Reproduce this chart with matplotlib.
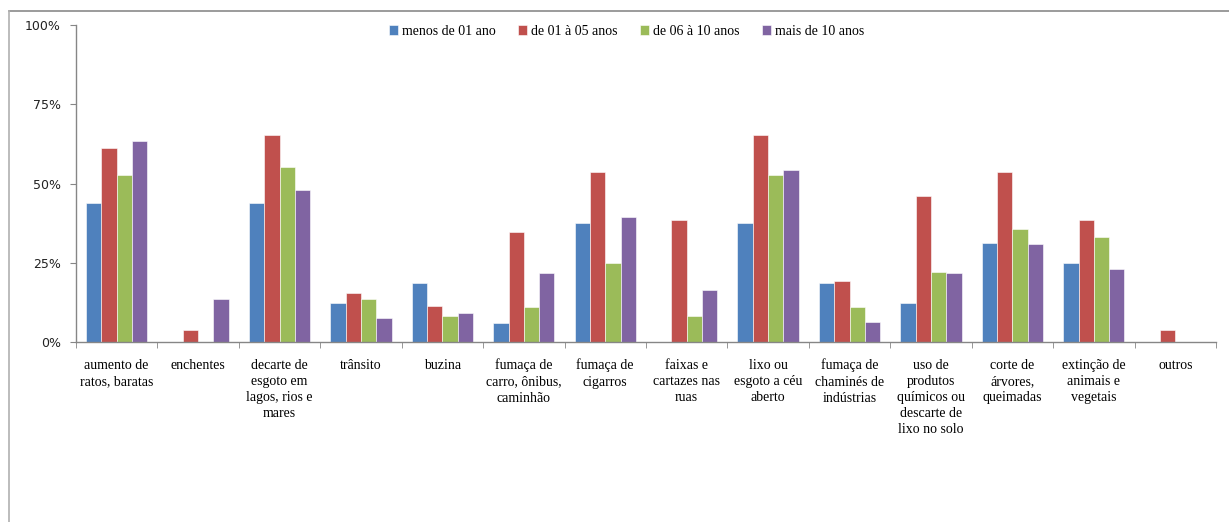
import numpy as np
import matplotlib
matplotlib.use("Agg")
import matplotlib.pyplot as plt
from matplotlib.lines import Line2D
from matplotlib.ticker import PercentFormatter

categorias = [
    "aumento de\nratos, baratas",
    "enchentes",
    "decarte de\nesgoto em\nlagos, rios e\nmares",
    "trânsito",
    "buzina",
    "fumaça de\ncarro, ônibus,\ncaminhão",
    "fumaça de\ncigarros",
    "faixas e\ncartazes nas\nruas",
    "lixo ou\nesgoto a céu\naberto",
    "fumaça de\nchaminés de\nindústrias",
    "uso de\nprodutos\nquímicos ou\ndescarte de\nlixo no solo",
    "corte de\nárvores,\nqueimadas",
    "extinção de\nanimais e\nvegetais",
    "outros",
]

series = ["menos de 01 ano", "de 01 à 05 anos", "de 06 à 10 anos", "mais de 10 anos"]

menos_01 = [43.7, 0, 43.7, 12.3, 18.6, 6.1, 37.5, 0, 37.5, 18.6, 12.3, 31.2, 24.9, 0]
de_01_05 = [61.2, 3.8, 65.2, 15.4, 11.4, 34.6, 53.6, 38.5, 65.2, 19.1, 46.0, 53.6, 38.5, 3.8]
de_06_10 = [52.7, 0, 55.3, 13.7, 8.1, 11.1, 24.9, 8.1, 52.7, 11.1, 22.0, 35.8, 33.2, 0]
mais_10 = [63.5, 13.7, 48.1, 7.7, 9.1, 21.7, 39.5, 16.3, 54.3, 6.4, 21.7, 30.9, 23.0, 0]

cores = ["#4F81BD", "#C0504D", "#9BBB59", "#8064A2"]

fig = plt.figure(figsize=(12.29, 5.22), dpi=100)
ax = fig.add_axes([0.0618, 0.3448, 0.9276, 0.6073])

x = np.arange(len(categorias))
width = 0.188
valores = [menos_01, de_01_05, de_06_10, mais_10]
for i, (vals, nome, cor) in enumerate(zip(valores, series, cores)):
    ax.bar(x + (i - 1.5) * width, vals, width, color=cor, label=nome,
           edgecolor="white", linewidth=0.4)

ax.set_xlim(-0.5, len(categorias) - 0.5)
ax.set_ylim(0, 100)
ax.set_yticks([0, 25, 50, 75, 100])
ax.yaxis.set_major_formatter(PercentFormatter(decimals=0))

ax.set_xticks(x)
ax.set_xticklabels(categorias, family="Liberation Serif", fontsize=10, linespacing=1.32,
                   va="top")
ax.set_xticks(np.arange(len(categorias) + 1) - 0.5, minor=True)
ax.tick_params(axis="x", which="major", length=0, pad=12)
ax.tick_params(axis="x", which="minor", length=4, color="#868686", direction="out")
ax.tick_params(axis="y", length=4, color="#868686", pad=7, labelsize=9, labelcolor="#222222")

for s in ["top", "right"]:
    ax.spines[s].set_visible(False)
for s in ["left", "bottom"]:
    ax.spines[s].set_color("#868686")
    ax.spines[s].set_linewidth(1.0)

ax.legend(loc="center", bbox_to_anchor=(0.51, 0.94), bbox_transform=fig.transFigure,
          ncol=4, frameon=False, prop={"family": "Liberation Serif", "size": 10},
          handlelength=0.65, handleheight=0.65, handletextpad=0.3, columnspacing=1.6)

# moldura do gráfico
fig.add_artist(Line2D([9 / 1229, 1.0], [1 - 11 / 522] * 2, color="#8a8a8a", lw=1.2))
fig.add_artist(Line2D([9 / 1229] * 2, [0, 1 - 11 / 522], color="#b0b0b0", lw=1.2))

fig.savefig("out.png", dpi=100)
